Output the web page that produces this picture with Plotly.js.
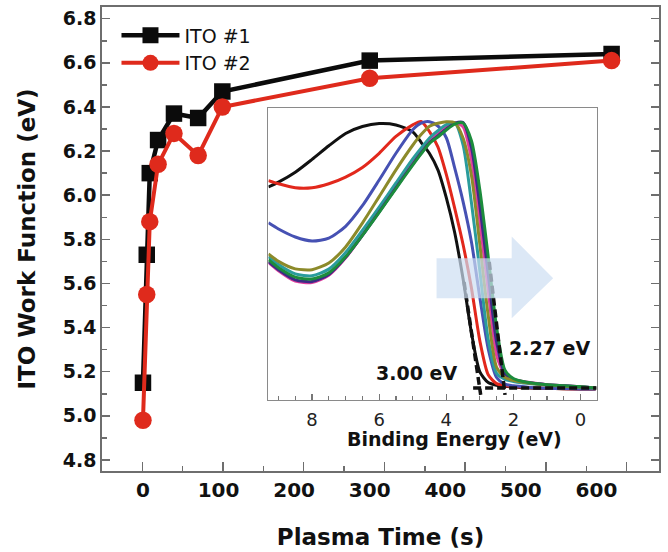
<!DOCTYPE html>
<html>
<head>
<meta charset="utf-8">
<script src="https://cdn.plot.ly/plotly-3.0.1.min.js"></script>
<style>html,body{margin:0;padding:0;background:#fff;}#chart{width:668px;height:552px;}</style>
</head>
<body>
<div id="chart"></div>
<script>
// ---------- main chart data ----------
const plasmaTime = [0, 5, 9, 20, 41, 73, 105, 300, 620];
const ito1 = [5.15, 5.73, 6.10, 6.25, 6.37, 6.35, 6.47, 6.61, 6.64];
const ito2 = [4.98, 5.55, 5.88, 6.14, 6.28, 6.18, 6.40, 6.53, 6.61];
const timeTickVals = [0, 100, 200, 300, 400, 500, 600];
const timeTickText = ["0", "100", "200", "300", "400", "500", "600"];
const seriesNames = ["ITO #1", "ITO #2"];

// ---------- inset (UPS cutoff) data ----------
const bindingEnergy = [9.3, 9.0, 8.5, 8.0, 7.5, 7.0, 6.5, 6.0, 5.5, 5.0, 4.75, 4.5, 4.25, 4.0, 3.75, 3.5, 3.25, 3.0, 2.75, 2.5, 2.25, 2.0, 1.75, 1.5, 1.0, 0.5, 0, -0.45];
const upsBlack   = [75.5, 77.3, 81.0, 85.8, 90.9, 95.5, 98.1, 99.2, 98.7, 96.1, 92.2, 88.0, 81.9, 71.5, 58.5, 41.2, 21.0, 6.4, 2.4, 1.4, 1.0, 0.7, 0.5, 0.4, 0.2, 0.1, 0, 0];
const upsRed     = [77.9, 76.7, 75.2, 75.2, 76.7, 79.2, 82.8, 88.1, 94.4, 98.7, 100, 96.2, 90.5, 80.2, 67.6, 54.0, 37.7, 18.0, 5.3, 2.0, 1.3, 0.9, 0.7, 0.5, 0.3, 0.1, 0, 0];
const upsBlue    = [62.1, 59.8, 56.8, 55.3, 56.4, 60.8, 68.5, 78.1, 88.1, 96.9, 99.4, 99.9, 98.3, 93.9, 82.6, 70.0, 54.9, 34.2, 15.0, 4.3, 1.8, 1.2, 0.9, 0.6, 0.3, 0.15, 0, 0];
const upsTeal    = [49.5, 46.5, 43.0, 42.3, 44.8, 51.0, 59.3, 68.0, 77.0, 86.0, 90.0, 93.8, 96.5, 98.8, 99.5, 91.2, 69.6, 44.2, 18.5, 5.8, 3.6, 2.8, 2.3, 2.0, 1.5, 1.1, 0.8, 0.4];
const upsMagenta = [47.3, 44.2, 40.3, 39.8, 42.5, 49.0, 57.5, 66.5, 75.5, 84.5, 88.7, 92.6, 95.3, 97.8, 99.6, 98.0, 85.8, 62.6, 36.7, 12.6, 5.1, 3.4, 2.9, 2.4, 1.6, 1.2, 0.8, 0.4];
const upsPurple  = [47.6, 44.6, 40.8, 40.2, 42.8, 49.2, 57.4, 66.2, 75.2, 84.0, 88.2, 92.1, 94.6, 97.2, 99.3, 99.6, 90.3, 68.5, 42.9, 17.5, 5.6, 3.6, 2.8, 2.2, 1.6, 1.2, 0.8, 0.4];
const upsOlive   = [50.5, 47.7, 44.9, 44.6, 47.1, 53.1, 62.0, 71.9, 81.9, 91.1, 95.1, 98.2, 99.3, 99.9, 99.5, 93.8, 79.8, 54.0, 27.4, 8.1, 4.3, 3.2, 2.6, 2.1, 1.5, 1.0, 0.7, 0.4];
const upsGreen   = [48.3, 45.3, 41.8, 41.1, 43.4, 49.4, 57.4, 66.0, 74.9, 83.7, 87.9, 91.8, 94.2, 96.8, 99.0, 99.4, 92.8, 74.4, 49.4, 23.0, 7.0, 3.9, 2.9, 2.3, 1.6, 1.2, 0.8, 0.4];
const cutoffLabels = ["3.00 eV", "2.27 eV"];
const tangentLeftBE = [3.47, 2.975], tangentLeftI = [40, -2.2];
const tangentRightBE = [2.72, 2.25], tangentRightI = [47.5, -2.2];
const baselineBE = [3.2, -0.48], baselineI = [0.4, 0.4];
const insetTickVals = [8, 6, 4, 2, 0];

const FONT = "DejaVu Sans";
const AX = "#6e6e6e";

const upsSeries = [
  {y: upsBlack, c: "#111111"},
  {y: upsRed, c: "#e2281c"},
  {y: upsBlue, c: "#4651b3"},
  {y: upsMagenta, c: "#e23f9e"},
  {y: upsTeal, c: "#2a9c9c"},
  {y: upsPurple, c: "#3b2c86"},
  {y: upsOlive, c: "#8c8a2a"},
  {y: upsGreen, c: "#1c8c3c"}
];

const traces = [];
upsSeries.forEach(s => traces.push({
  type: "scatter", mode: "lines", x: bindingEnergy, y: s.y, xaxis: "x2", yaxis: "y2",
  line: {color: s.c, width: 3, shape: "spline", smoothing: 0.7}, showlegend: false, hoverinfo: "skip"
}));
[[tangentLeftBE, tangentLeftI], [tangentRightBE, tangentRightI], [baselineBE, baselineI]].forEach(p => traces.push({
  type: "scatter", mode: "lines", x: p[0], y: p[1], xaxis: "x2", yaxis: "y2",
  line: {color: "#111", width: 3.5, dash: "8px,4px"}, showlegend: false, hoverinfo: "skip"
}));
// empty trace so the tick-mark overlay axis gets drawn
traces.push({type: "scatter", mode: "lines", x: [], y: [], xaxis: "x3", yaxis: "y", showlegend: false, hoverinfo: "skip"});
traces.push({
  type: "scatter", mode: "lines+markers", name: seriesNames[0], x: plasmaTime, y: ito1,
  line: {color: "#0b0b0b", width: 4.5}, marker: {symbol: "square", size: 16.5, color: "#0b0b0b"}
});
traces.push({
  type: "scatter", mode: "lines+markers", name: seriesNames[1], x: plasmaTime, y: ito2,
  line: {color: "#df2a1c", width: 4}, marker: {symbol: "circle", size: 17.5, color: "#df2a1c"}
});

const layout = {
  width: 668, height: 552,
  margin: {l: 102, r: 9, t: 7, b: 81},
  paper_bgcolor: "#ffffff", plot_bgcolor: "#ffffff",
  font: {family: FONT, color: "#111"},
  showlegend: true,
  legend: {x: 0.026, y: 0.98, xanchor: "left", yanchor: "top", bgcolor: "rgba(0,0,0,0)",
           font: {family: FONT, size: 19, color: "#111"}, itemwidth: 58, traceorder: "normal"},
  xaxis: {
    domain: [0, 1], range: [-54.2, 682.7], tickmode: "array", tickvals: timeTickVals, ticktext: timeTickText,
    ticks: "", showline: true, mirror: true, linecolor: AX, linewidth: 1.8,
    showgrid: false, zeroline: false,
    tickfont: {family: FONT, size: 20, weight: "bold", color: "#111"},
    title: {text: "Plasma Time (s)", font: {family: FONT, size: 23, weight: "bold", color: "#111"}, standoff: 28}
  },
  xaxis3: {
    overlaying: "x", anchor: "y", side: "bottom", range: [-54.2, 682.7], tickmode: "linear", tick0: -0.9, dtick: 106.8,
    ticks: "inside", ticklen: 9, tickwidth: 1.5, tickcolor: AX, showticklabels: false,
    showgrid: false, zeroline: false, showline: false,
    minor: {tickmode: "linear", tick0: -0.9, dtick: 53.4, ticks: "inside", ticklen: 5, tickwidth: 1.5, tickcolor: AX, showgrid: false}
  },
  yaxis: {
    domain: [0, 1], range: [4.75, 6.853], tickmode: "linear", tick0: 4.8, dtick: 0.2, tickformat: ".1f",
    ticks: "inside", ticklen: 8, tickwidth: 1.5, tickcolor: AX,
    showline: true, mirror: "ticks", linecolor: AX, linewidth: 1.8, showgrid: false, zeroline: false,
    minor: {dtick: 0.1, ticks: "inside", ticklen: 5, tickwidth: 1.5, tickcolor: AX, showgrid: false},
    tickfont: {family: FONT, size: 19, weight: "bold", color: "#111"},
    title: {text: "ITO Work Function (eV)", font: {family: FONT, size: 23, weight: "bold", color: "#111"}, standoff: 21}
  },
  xaxis2: {
    domain: [0.2988, 0.8883], anchor: "y2", range: [9.3, -0.485],
    tickmode: "array", tickvals: insetTickVals, ticks: "inside", ticklen: 6, tickwidth: 1.2, tickcolor: "#777",
    showline: true, mirror: true, linecolor: "#8a8a8a", linewidth: 1.2, showgrid: false, zeroline: false,
    minor: {dtick: 0.5, tick0: 0, ticks: "inside", ticklen: 3.5, tickwidth: 1.2, tickcolor: "#777", showgrid: false},
    tickfont: {family: FONT, size: 18, color: "#222"}, ticklabelstandoff: 3
  },
  yaxis2: {
    domain: [0.1531, 0.7822], anchor: "x2", range: [-4.1, 105],
    showticklabels: false, ticks: "", showline: true, mirror: true, linecolor: "#8a8a8a", linewidth: 1.2,
    showgrid: false, zeroline: false
  },
  shapes: [{
    type: "path", xref: "x2", yref: "y2", layer: "above",
    path: "M 4.29,48.9 L 2.05,48.9 L 2.05,57.0 L 0.815,41.4 L 2.05,26.4 L 2.05,33.9 L 4.29,33.9 Z",
    fillcolor: "rgba(205,222,242,0.7)", line: {width: 0}
  }],
  annotations: [
    {xref: "paper", yref: "paper", x: 0.6336, y: 0.069, xanchor: "center", yanchor: "middle", showarrow: false,
     text: "Binding Energy (eV)", font: {family: FONT, size: 19, weight: "bold", color: "#111"}},
    {xref: "x2", yref: "y2", x: 4.88, y: 5.9, xanchor: "center", yanchor: "middle", showarrow: false,
     text: cutoffLabels[0], font: {family: FONT, size: 19, weight: "bold", color: "#111"}},
    {xref: "x2", yref: "y2", x: 0.914, y: 15.2, xanchor: "center", yanchor: "middle", showarrow: false,
     text: cutoffLabels[1], font: {family: FONT, size: 19, weight: "bold", color: "#111"}}
  ]
};

Plotly.newPlot("chart", traces, layout, {displayModeBar: false, staticPlot: true});
</script>
</body>
</html>
